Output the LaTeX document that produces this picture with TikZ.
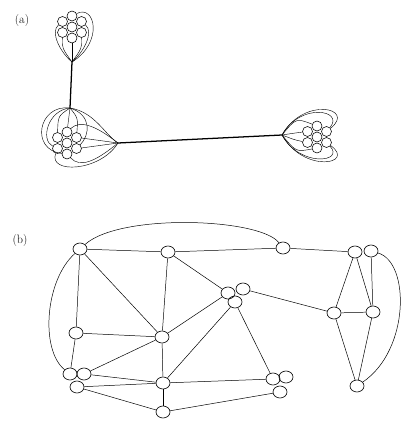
\documentclass[tikz,border=0pt]{standalone}
\usetikzlibrary{shapes.geometric}
\tikzset{
  vert/.style={draw, ellipse, line width=0.9pt, minimum width=7mm, minimum height=6mm, inner sep=0pt},
  dot/.style={draw, circle, line width=0.8pt, minimum size=5mm, inner sep=0pt},
  link/.style={line width=0.7pt},
  bundle/.style={line width=0.6pt},
  trunk/.style={line width=1.8pt},
  tag/.style={font=\LARGE}
}

\begin{document}
\begin{tikzpicture}[x=0.05cm, y=-0.05cm]
  \useasboundingbox (0,0) rectangle (400,423);

  % (a) three clusters tied by bundles
  \node[tag] (taga) at (22,20) {(a)};
  \foreach \c/\x/\y in {t/72/27, m/67/143, r/317/137} {
    \node[dot] (\c0) at (\x,\y) {};
    \foreach \k/\dx/\dy in {1/0/-11, 2/9.5/-5.5, 3/9.5/5.5, 4/0/11, 5/-9.5/5.5, 6/-9.5/-5.5}
      \node[dot] (\c\k) at (\x+\dx,\y+\dy) {};
  }
  \coordinate (tp) at (72,62);
  \coordinate (mp) at (70,108);
  \coordinate (mq) at (118,143);
  \coordinate (rp) at (282,135);

  \draw[bundle] (t4) -- (tp);
  \draw[bundle] (t5) .. controls (62,48) .. (tp);
  \draw[bundle] (t3) .. controls (82,48) .. (tp);
  \draw[bundle] (t6) .. controls (50,32) and (60,52) .. (tp);
  \draw[bundle] (t2) .. controls (94,32) and (84,52) .. (tp);
  \draw[bundle] (t1) .. controls (95,4) and (104,42) .. (tp);
  \draw[trunk] (tp) -- (mp);

  \draw[bundle] (mp) -- (m1);
  \draw[bundle] (mp) .. controls (78,118) .. (m2);
  \draw[bundle] (mp) .. controls (58,116) .. (m6);
  \draw[bundle] (mp) .. controls (48,110) and (40,140) .. (m5);
  \draw[bundle] (mp) .. controls (38,104) and (30,150) .. (m4);
  \draw[bundle] (mp) .. controls (92,115) and (90,135) .. (m3);
  \draw[bundle] (mp) .. controls (95,112) and (105,135) .. (mq);
  \draw[bundle] (mq) .. controls (100,140) .. (m2);
  \draw[bundle] (mq) .. controls (100,146) .. (m3);
  \draw[bundle] (mq) .. controls (95,125) and (80,120) .. (m1);
  \draw[bundle] (mq) .. controls (95,162) and (80,168) .. (m4);
  \draw[bundle] (mq) .. controls (100,172) and (48,174) .. (m5);
  \draw[trunk] (mq) -- (rp);

  \draw[bundle] (rp) .. controls (295,133) .. (r6);
  \draw[bundle] (rp) .. controls (295,140) .. (r5);
  \draw[bundle] (rp) .. controls (296,118) .. (r1);
  \draw[bundle] (rp) .. controls (296,152) .. (r4);
  \draw[bundle] (rp) .. controls (300,102) and (345,110) .. (r2);
  \draw[bundle] (rp) .. controls (300,168) and (345,162) .. (r3);
  \draw[bundle] (rp) .. controls (304,96) and (356,108) .. (r2);
  \draw[bundle] (rp) .. controls (304,174) and (356,164) .. (r3);

  % (b) the graph
  \node[tag] (tagb) at (20,240) {(b)};
  \node[vert] (a) at (80,249) {};
  \node[vert] (b) at (168,252) {};
  \node[vert] (c) at (76,333) {};
  \node[vert] (d) at (162,337) {};
  \node[vert] (e1) at (70,374) {};
  \node[vert] (e2) at (84,374) {};
  \node[vert] (e3) at (77,387) {};
  \node[vert] (f) at (163,383) {};
  \node[vert] (g) at (163,412) {};
  \node[vert] (h) at (283,248) {};
  \node[vert] (i1) at (355,252) {};
  \node[vert] (i2) at (371,251) {};
  \node[vert] (j1) at (228,293) {};
  \node[vert] (j2) at (243,289) {};
  \node[vert] (j3) at (235,302) {};
  \node[vert] (k) at (334,313) {};
  \node[vert] (l) at (373,312) {};
  \node[vert] (m1) at (273,379) {};
  \node[vert] (m2) at (286,377) {};
  \node[vert] (m3) at (280,392) {};
  \node[vert] (n) at (357,386) {};

  \draw[link] (a) -- (b);
  \draw[link] (b) -- (h);
  \draw[link] (h) -- (i1);
  \draw[link] (a) .. controls (120,213) and (260,218) .. (h);
  \draw[link] (a) .. controls (45,280) and (40,350) .. (e1);
  \draw[link] (i2) .. controls (410,262) and (410,350) .. (n);
  \draw[link] (a) -- (c);
  \draw[link] (a) -- (d);
  \draw[link] (b) -- (d);
  \draw[link] (b) -- (j1);
  \draw[link] (c) -- (d);
  \draw[link] (c) -- (e1);
  \draw[link] (d) -- (e2);
  \draw[link] (d) -- (f);
  \draw[link] (d) -- (j1);
  \draw[link] (e2) -- (f);
  \draw[link] (e3) -- (f);
  \draw[link] (e3) -- (g);
  \draw[link] (f) -- (g);
  \draw[link] (f) -- (j3);
  \draw[link] (f) -- (m1);
  \draw[link] (g) -- (m3);
  \draw[link] (j3) -- (m1);
  \draw[link] (j2) -- (k);
  \draw[link] (k) -- (l);
  \draw[link] (k) -- (i1);
  \draw[link] (k) -- (n);
  \draw[link] (l) -- (i1);
  \draw[link] (l) -- (i2);
  \draw[link] (l) -- (n);
\end{tikzpicture}
\end{document}
